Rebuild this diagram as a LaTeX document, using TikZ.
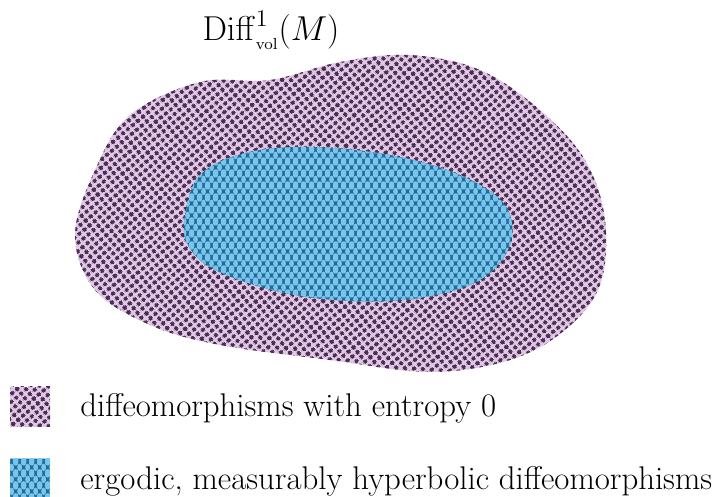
\documentclass[tikz,border=0pt]{standalone}
\usepackage{tikz}
\usetikzlibrary{patterns.meta,positioning}
\usepackage{amsmath}
\definecolor{lilacbase}{RGB}{226,200,230}
\definecolor{plumdark}{RGB}{72,46,80}
\definecolor{skybase}{RGB}{118,198,240}
\definecolor{tealdark}{RGB}{38,104,144}

\tikzdeclarepattern{
  name=entropydots,
  type=uncolored,
  bounding box={(0,0) and (3.4pt,3.4pt)},
  tile size={(3.4pt,3.4pt)},
  tile transformation={rotate=40},
  code={\fill (1.7pt,1.7pt) circle (1.3pt);}
}
\tikzdeclarepattern{
  name=ergodiccells,
  type=uncolored,
  bounding box={(0,0) and (4pt,6pt)},
  tile size={(4pt,6pt)},
  code={
    \fill (2pt,3pt) ellipse (1.35pt and 2.05pt);
    \fill (0,0) ellipse (1.35pt and 2.05pt);
    \fill (4pt,0) ellipse (1.35pt and 2.05pt);
    \fill (0,6pt) ellipse (1.35pt and 2.05pt);
    \fill (4pt,6pt) ellipse (1.35pt and 2.05pt);
  }
}

\begin{document}
\begin{tikzpicture}[x=0.5pt, y=-0.5pt,
zeroarea/.style={preaction={fill=lilacbase}, pattern=entropydots, pattern color=plumdark},
ergarea/.style={preaction={fill=tealdark}, pattern=ergodiccells, pattern color=skybase},
keybox/.style={minimum width=20pt, minimum height=20pt, inner sep=0pt},
keytxt/.style={font=\fontsize{16.4}{19}\selectfont, anchor=west, inner sep=0pt}
]
\useasboundingbox (0,0) rectangle (714,497);

% the whole space
\path[zeroarea] plot[smooth cycle, tension=0.6] coordinates {
  (95,170) (130,115) (200,82) (270,80) (340,62) (410,55) (480,70)
  (540,110) (585,160) (605,220) (600,285) (565,330) (510,360)
  (430,372) (330,360) (220,345) (150,325) (95,290) (75,235)};

% ergodic part
\path[ergarea] plot[smooth cycle, tension=0.6] coordinates {
  (185,215) (200,175) (245,153) (310,147) (390,155) (460,175)
  (505,205) (510,245) (480,280) (420,298) (350,301) (280,292)
  (215,270) (188,245)};

\node[font=\fontsize{16.4}{19}\selectfont] (title) at (271,30)
  {$\mathrm{Diff}^1_{\scriptscriptstyle\mathrm{vol}}(M)$};

% legend
\node[keybox, zeroarea] (keyzero) at (30,407) {};
\node[keybox, ergarea] (keyerg) at (30,479) {};
\node[keytxt] (txtzero) at (80,408) {diffeomorphisms with entropy 0};
\node[keytxt] (txterg) at (80,481) {ergodic, measurably hyperbolic diffeomorphisms};
\end{tikzpicture}
\end{document}
